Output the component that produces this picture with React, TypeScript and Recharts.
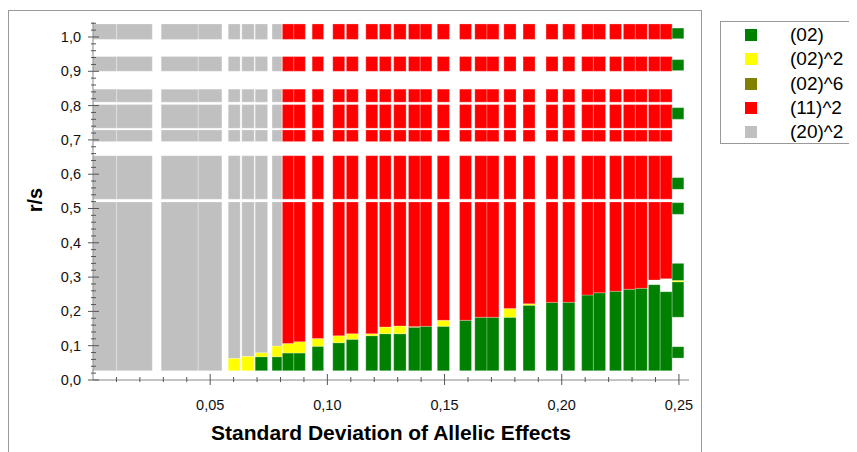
import React from 'react';
import { ComposedChart, XAxis, YAxis, ReferenceArea } from 'recharts';

const categories = ['(02)', '(02)^2', '(02)^6', '(11)^2', '(20)^2'];
const catColors = ['#008000', '#ffff00', '#808000', '#ff0000', '#c0c0c0'];

const BASE = 0.027;
const TOP = 1.038;

// r/s bands that hold data (white between them)
const rowLo = [0.027, 0.527, 0.695, 0.734, 0.81, 0.9, 0.993];
const rowHi = [0.519, 0.654, 0.729, 0.803, 0.848, 0.943, 1.038];

// columns along the standard deviation axis
const colStart = [0.0, 0.0101, 0.0291, 0.0449, 0.0577, 0.0635, 0.0692, 0.0764, 0.0808, 0.0857, 0.0935, 0.1023, 0.1081, 0.1164, 0.1222, 0.1283, 0.1346, 0.1396, 0.1469, 0.1564, 0.1629, 0.1681, 0.1753, 0.1835, 0.1933, 0.2004, 0.2085, 0.2135, 0.2204, 0.2263, 0.2314, 0.237, 0.242];
const colEnd = [0.0101, 0.0253, 0.0449, 0.055, 0.0628, 0.0688, 0.0745, 0.0806, 0.0857, 0.0906, 0.0984, 0.1074, 0.1132, 0.1215, 0.1272, 0.1336, 0.1396, 0.1446, 0.1521, 0.1615, 0.1681, 0.1732, 0.1805, 0.1886, 0.1984, 0.2056, 0.2135, 0.2187, 0.2255, 0.2314, 0.2365, 0.242, 0.2471];
// category index filling the column above the (02) phases
const upperCat = [4, 4, 4, 4, 4, 4, 4, 4, 3, 3, 3, 3, 3, 3, 3, 3, 3, 3, 3, 3, 3, 3, 3, 3, 3, 3, 3, 3, 3, 3, 3, 3, 3];
// tops of the stacked phases (r/s)
const greenTop = [0.027, 0.027, 0.027, 0.027, 0.027, 0.027, 0.0679, 0.0679, 0.0787, 0.0787, 0.0983, 0.1087, 0.1187, 0.1292, 0.135, 0.135, 0.1536, 0.1566, 0.1566, 0.174, 0.1828, 0.1828, 0.1828, 0.218, 0.226, 0.2265, 0.2478, 0.2545, 0.2589, 0.2644, 0.2673, 0.2778, 0.2574];
const oliveTop = [0.027, 0.027, 0.027, 0.027, 0.027, 0.027, 0.0679, 0.0679, 0.0787, 0.0787, 0.0983, 0.1087, 0.1187, 0.1292, 0.135, 0.135, 0.1562, 0.1566, 0.1566, 0.174, 0.1828, 0.1828, 0.1828, 0.218, 0.226, 0.2265, 0.2478, 0.2545, 0.2589, 0.2644, 0.2673, 0.2778, 0.2574];
const yellowTop = [0.027, 0.027, 0.027, 0.027, 0.0633, 0.0691, 0.0796, 0.0991, 0.1064, 0.1117, 0.121, 0.1292, 0.135, 0.135, 0.1545, 0.1574, 0.1562, 0.1566, 0.174, 0.174, 0.1828, 0.1828, 0.2085, 0.2224, 0.226, 0.2265, 0.2478, 0.2545, 0.2589, 0.2644, 0.2673, 0.2778, 0.2574];
const upperFrom = [0.027, 0.027, 0.027, 0.027, 0.0633, 0.0691, 0.0796, 0.0991, 0.1064, 0.1117, 0.121, 0.1292, 0.135, 0.135, 0.1545, 0.1574, 0.1562, 0.1566, 0.174, 0.174, 0.1828, 0.1828, 0.2085, 0.2224, 0.226, 0.2265, 0.2478, 0.2545, 0.2589, 0.2644, 0.2673, 0.2915, 0.2953];

// last column at the right edge: scattered blocks
const edgeStart = 0.2471;
const edgeEnd = 0.2521;
const edgeLo = [0.995, 0.902, 0.76, 0.556, 0.483, 0.2895, 0.2857, 0.183, 0.064];
const edgeHi = [1.026, 0.934, 0.794, 0.59, 0.517, 0.34, 0.2895, 0.2857, 0.097];
const edgeCat = [0, 0, 0, 0, 0, 0, 1, 0, 0];

const xTicks = Array.from({ length: 25 }, (_, i) => (i + 1) / 100);
const yTicks = Array.from({ length: 53 }, (_, i) => i / 50);

const FONT = '"Liberation Sans", Arial, sans-serif';
const TICK = '#555';

type Cell = { x0: number; x1: number; y0: number; y1: number; c: number };

const buildCells = (): Cell[] => {
  const out: Cell[] = [];
  colStart.forEach((x0, i) => {
    const x1 = colEnd[i];
    const bands: [number, number, number][] = [
      [BASE, greenTop[i], 0],
      [greenTop[i], oliveTop[i], 2],
      [oliveTop[i], yellowTop[i], 1],
      [upperFrom[i], TOP, upperCat[i]],
    ];
    bands.forEach(([b0, b1, c]) => {
      rowLo.forEach((r0, k) => {
        const y0 = Math.max(b0, r0);
        const y1 = Math.min(b1, rowHi[k]);
        if (y1 > y0) out.push({ x0, x1, y0, y1, c });
      });
    });
  });
  edgeLo.forEach((lo, i) => {
    out.push({ x0: edgeStart, x1: edgeEnd, y0: lo, y1: edgeHi[i], c: edgeCat[i] });
  });
  return out;
};

const BottomTick = ({ x, y, payload }: any) => {
  const v = payload.value;
  const major = Math.round(v * 100) % 5 === 0;
  return (
    <g>
      <line x1={x} x2={x} y1={y - (major ? 6 : 3)} y2={y + (major ? 5 : 2)} stroke={TICK} />
      {major && (
        <text x={x} y={y + 30} textAnchor="middle" fontSize={14.5} fontFamily={FONT} fill="#111">
          {v.toFixed(2).replace('.', ',')}
        </text>
      )}
    </g>
  );
};

const TopTick = ({ x, y, payload }: any) => {
  const major = Math.round(payload.value * 100) % 5 === 0;
  return <line x1={x} x2={x} y1={y} y2={y + (major ? 6 : 3)} stroke={TICK} />;
};

const LeftTick = ({ x, y, payload }: any) => {
  const v = payload.value;
  const major = Math.round(v * 50) % 5 === 0;
  return (
    <g>
      <line x1={x - (major ? 5 : 2)} x2={x + (major ? 6 : 3)} y1={y} y2={y} stroke={TICK} />
      {major && (
        <text x={x - 12} y={y + 5} textAnchor="end" fontSize={14.5} fontFamily={FONT} fill="#111">
          {v.toFixed(1).replace('.', ',')}
        </text>
      )}
    </g>
  );
};

const RightTick = ({ x, y, payload }: any) => {
  const major = Math.round(payload.value * 50) % 5 === 0;
  return <line x1={x - (major ? 6 : 3)} x2={x} y1={y} y2={y} stroke={TICK} />;
};

export default function App() {
  const cells = React.useMemo(buildCells, []);
  return (
    <div style={{ position: 'relative', width: 849, height: 444, fontFamily: FONT, overflow: 'hidden' }}>
      <div
        style={{
          position: 'absolute', left: 0, top: 2, width: 692, height: 460,
          borderLeft: '1px solid #9a9a9a', borderTop: '1px solid #9a9a9a', borderRight: '1px solid #9a9a9a',
        }}
      />
      <div style={{ position: 'absolute', left: 0, top: 0 }}>
        <ComposedChart width={700} height={444} data={[]} margin={{ top: 14, right: 19, left: 0, bottom: 0 }}>
          <XAxis
            type="number" dataKey="x" domain={[0, 0.2543]} ticks={xTicks} interval={0}
            height={72} tickSize={0} tickMargin={0} tick={<BottomTick />}
            axisLine={{ stroke: '#888' }} tickLine={false} allowDataOverflow
          />
          <XAxis
            xAxisId="top" orientation="top" type="number" dataKey="x" domain={[0, 0.2543]} ticks={xTicks}
            interval={0} height={0} tickSize={0} tickMargin={0} tick={<TopTick />}
            axisLine={{ stroke: '#aaa' }} tickLine={false} allowDataOverflow
          />
          <YAxis
            type="number" dataKey="y" domain={[0, 1.0437]} ticks={yTicks} interval={0}
            width={85} tickSize={0} tickMargin={0} tick={<LeftTick />}
            axisLine={{ stroke: '#888' }} tickLine={false} allowDataOverflow
          />
          <YAxis
            yAxisId="right" orientation="right" type="number" dataKey="y" domain={[0, 1.0437]} ticks={yTicks}
            interval={0} width={0} tickSize={0} tickMargin={0} tick={<RightTick />}
            axisLine={{ stroke: '#aaa' }} tickLine={false} allowDataOverflow
          />
          {cells.map((c, i) => (
            <ReferenceArea
              key={i}
              x1={c.x0}
              x2={c.x1}
              y1={c.y0}
              y2={c.y1}
              fill={catColors[c.c]}
              fillOpacity={1}
              stroke="#ffffff"
              strokeOpacity={0.25}
              strokeWidth={1}
            />
          ))}
        </ComposedChart>
      </div>
      <div
        style={{
          position: 'absolute', left: 27, top: 192, transform: 'translate(-50%, -50%) rotate(-90deg)',
          fontWeight: 'bold', fontSize: 20, color: '#000', whiteSpace: 'nowrap',
        }}
      >
        r/s
      </div>
      <div
        style={{
          position: 'absolute', left: 383, top: 425, transform: 'translate(-50%, -50%)',
          fontWeight: 'bold', fontSize: 21, color: '#000', whiteSpace: 'nowrap',
        }}
      >
        Standard Deviation of Allelic Effects
      </div>
      <div
        style={{
          position: 'absolute', left: 712, top: 13, width: 150, height: 121,
          border: '1px solid #999', background: '#fff',
        }}
      >
        {categories.map((name, i) => (
          <div
            key={name}
            style={{ position: 'absolute', left: 0, top: 3 + i * 24.25, height: 20, display: 'flex', alignItems: 'center' }}
          >
            <div style={{ marginLeft: 24, width: 12, height: 12, background: catColors[i] }} />
            <span style={{ marginLeft: 33, fontSize: 19, color: '#000', lineHeight: '20px' }}>{name}</span>
          </div>
        ))}
      </div>
    </div>
  );
}
